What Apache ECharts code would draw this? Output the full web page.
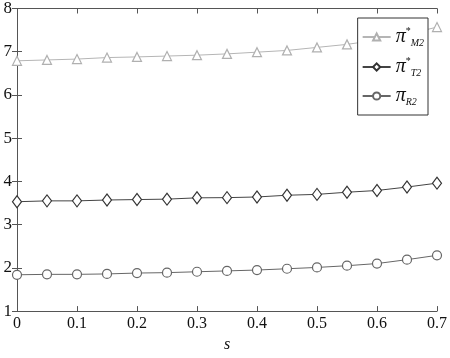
<!DOCTYPE html>
<html>
<head>
<meta charset="utf-8">
<script src="https://cdn.jsdelivr.net/npm/echarts@6/dist/echarts.min.js"></script>
<style>html,body{margin:0;padding:0;background:#fff}#c{width:450px;height:358px}</style>
</head>
<body>
<div id="c"></div>
<script>
var sValues = [0, 0.05, 0.1, 0.15, 0.2, 0.25, 0.3, 0.35, 0.4, 0.45, 0.5, 0.55, 0.6, 0.65, 0.7];
var piM2 = [6.79, 6.81, 6.83, 6.865, 6.88, 6.90, 6.92, 6.95, 6.99, 7.03, 7.10, 7.17, 7.27, 7.40, 7.57];
var piT2 = [3.53, 3.55, 3.55, 3.57, 3.58, 3.59, 3.62, 3.625, 3.64, 3.68, 3.70, 3.75, 3.79, 3.87, 3.96];
var piR2 = [1.84, 1.85, 1.85, 1.86, 1.88, 1.89, 1.91, 1.93, 1.95, 1.98, 2.01, 2.05, 2.10, 2.19, 2.29];
var xTicks = [0, 0.1, 0.2, 0.3, 0.4, 0.5, 0.6, 0.7];
var yTicks = [1, 2, 3, 4, 5, 6, 7, 8];
var seriesNames = ['M2', 'T2', 'R2'];

function pairs(ys) { return sValues.map(function (s, i) { return [s, ys[i]]; }); }
var font = 'Liberation Serif';
var axisLine = { show: true, lineStyle: { color: '#555', width: 1 } };
var tick = { show: true, inside: true, length: 5, lineStyle: { color: '#555' } };

var chart = echarts.init(document.getElementById('c'));
chart.setOption({
  animation: false,
  grid: { left: 17, right: 10, top: 5, bottom: 30 },
  xAxis: [{
    type: 'value', min: 0, max: 0.7, interval: 0.1, position: 'bottom',
    axisLine: axisLine, axisTick: tick, splitLine: { show: false },
    axisLabel: { fontFamily: font, fontSize: 16, color: '#111', margin: 5,
      formatter: function (v) { return xTicks.indexOf(Math.round(v * 10) / 10) >= 0 ? String(Math.round(v * 10) / 10) : ''; } },
    name: 's', nameLocation: 'middle', nameGap: 18,
    nameTextStyle: { fontFamily: font, fontStyle: 'italic', fontSize: 16, color: '#111' }
  }, {
    type: 'value', min: 0, max: 0.7, interval: 0.1, position: 'top',
    axisLine: axisLine, axisTick: tick, axisLabel: { show: false }, splitLine: { show: false }
  }],
  yAxis: [{
    type: 'value', min: 1, max: 8, interval: 1, position: 'left',
    axisLine: axisLine, axisTick: tick, splitLine: { show: false },
    axisLabel: { fontFamily: font, fontSize: 17, color: '#111', margin: 5,
      formatter: function (v) { return yTicks.indexOf(v) >= 0 ? String(v) : ''; } }
  }, {
    type: 'value', min: 1, max: 8, interval: 1, position: 'right',
    axisLine: axisLine, axisTick: tick, axisLabel: { show: false }, splitLine: { show: false }
  }],
  legend: {
    orient: 'vertical', right: 22, top: 18,
    backgroundColor: '#fff', borderColor: '#333', borderWidth: 1,
    padding: [8, 4, 8, 4], itemGap: 8, itemWidth: 28, itemHeight: 9,
    formatter: function (name) {
      if (name === 'R2') return '{pi|π}{sub|R2}';
      return '{pi|π}{sup|*}{sub|' + name + '}';
    },
    textStyle: {
      rich: {
        pi: { fontFamily: font, fontStyle: 'italic', fontSize: 20, color: '#111', lineHeight: 22, verticalAlign: 'middle' },
        sup: { fontFamily: font, fontSize: 10, color: '#111', verticalAlign: 'top', lineHeight: 22 },
        sub: { fontFamily: font, fontStyle: 'italic', fontSize: 10, color: '#111', verticalAlign: 'bottom', lineHeight: 22 }
      }
    },
    data: seriesNames
  },
  series: [
    { name: 'M2', type: 'line', data: pairs(piM2), symbol: 'triangle', symbolSize: 9,
      lineStyle: { color: '#b5b5b5', width: 1 }, itemStyle: { color: '#fff', borderColor: '#b0b0b0', borderWidth: 1.2 }, color: '#b5b5b5', z: 2 },
    { name: 'T2', type: 'line', data: pairs(piT2), symbol: 'diamond', symbolSize: [9, 12],
      lineStyle: { color: '#444', width: 1 }, itemStyle: { color: '#fff', borderColor: '#333', borderWidth: 1.2 }, color: '#444' },
    { name: 'R2', type: 'line', data: pairs(piR2), symbol: 'circle', symbolSize: 9,
      lineStyle: { color: '#666', width: 1 }, itemStyle: { color: '#fff', borderColor: '#666', borderWidth: 1.2 }, color: '#666' }
  ]
});
</script>
</body>
</html>
